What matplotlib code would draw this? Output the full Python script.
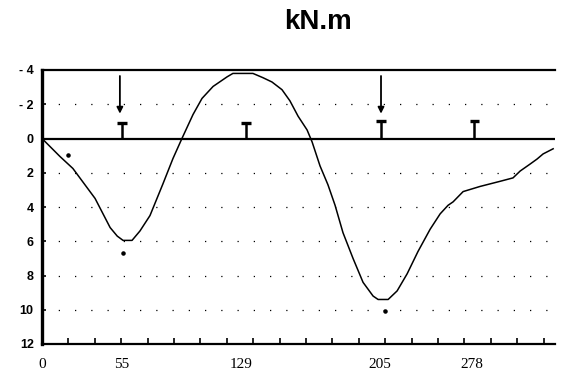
import matplotlib.pyplot as plt
from matplotlib.ticker import FixedLocator

# bending moment line, x in axis divisions, M in kN.m (positive drawn downward)
x_pts = [0.0, 0.68, 1.17, 2.01, 2.58, 2.85, 3.07, 3.41, 3.71, 4.09, 4.58, 4.96, 5.30,
         5.72, 6.06, 6.48, 7.01, 7.23, 7.99, 8.37, 8.71, 9.09, 9.39, 9.70, 10.04,
         10.23, 10.53, 10.83, 11.10, 11.40, 11.78, 12.16, 12.54, 12.73, 13.11,
         13.45, 13.83, 14.24, 14.70, 15.08, 15.38, 15.57, 15.95, 16.59, 17.35,
         17.84, 18.11, 18.48, 18.75, 18.98, 19.36]
m_pts = [0.0, 1.05, 1.75, 3.5, 5.2, 5.7, 5.95, 5.95, 5.4, 4.5, 2.65, 1.17, 0.0,
         -1.4, -2.34, -3.04, -3.6, -3.8, -3.8, -3.55, -3.3, -2.85, -2.2, -1.3, -0.5,
         0.2, 1.6, 2.7, 3.9, 5.5, 7.0, 8.4, 9.2, 9.4, 9.4,
         8.9, 7.9, 6.6, 5.3, 4.4, 3.9, 3.7, 3.1, 2.8, 2.5,
         2.3, 1.9, 1.5, 1.2, 0.9, 0.6]

meas_x = [0.98, 3.07, 13.0]
meas_m = [0.95, 6.7, 10.1]

support_x = [3.03, 7.72, 12.84, 16.38]
support_h = [-0.9, -0.9, -1.0, -1.0]
load_x = [2.95, 12.84]

xtick_pos = [0, 3.03, 7.54, 12.8, 16.29]
xtick_labels = ['0', '55', '129', '205', '278']
ytick_vals = [-4, -2, 0, 2, 4, 6, 8, 10, 12]
ytick_labels = ['- 4', '- 2', '0', '2', '4', '6', '8', '10', '12']
grid_vals = [-2, 2, 4, 6, 8, 10]

fig = plt.figure(figsize=(5.63, 3.79), dpi=100)
ax = fig.add_axes([42 / 563, 1 - 344 / 379, (555 - 42) / 563, (344 - 70) / 379])

for g in grid_vals:
    ax.axhline(g, color='k', lw=0.9, linestyle=(0, (1, 12)), zorder=1)
ax.axhline(0, color='k', lw=1.6, zorder=2)

ax.plot(x_pts, m_pts, color='k', lw=1.1, zorder=3)
ax.scatter(meas_x, meas_m, s=5, color='k', zorder=3)

# supports
ax.vlines(support_x, 0, support_h, color='k', lw=1.8, zorder=4)
ax.hlines(support_h, [s - 0.18 for s in support_x], [s + 0.18 for s in support_x],
          color='k', lw=2.4, zorder=4)

# point loads
for lx in load_x:
    ax.annotate('', xy=(lx, -1.45), xytext=(lx, -3.65),
                arrowprops=dict(arrowstyle='-|>', color='k', lw=1.3,
                                mutation_scale=9, shrinkA=0, shrinkB=0))

ax.set_xlim(0, 19.43)
ax.set_ylim(12, -4)

ax.set_yticks(ytick_vals)
ax.set_yticklabels(ytick_labels, fontfamily='Liberation Sans', fontweight='bold', fontsize=9)
ax.tick_params(axis='y', direction='in', length=3, width=1.2, pad=6)

ax.set_xticks(xtick_pos)
ax.set_xticklabels(xtick_labels, fontfamily='Liberation Serif', fontsize=11)
ax.xaxis.set_minor_locator(FixedLocator(range(0, 20)))
ax.tick_params(axis='x', which='major', length=0, pad=10)
ax.tick_params(axis='x', which='minor', direction='in', length=4, width=1.2)

ax.spines['right'].set_visible(False)
ax.spines['left'].set_linewidth(2.4)
ax.spines['bottom'].set_linewidth(1.6)
ax.spines['top'].set_linewidth(1.6)

fig.text(318 / 563, 1 - 22 / 379, 'kN.m', ha='center', va='center',
         fontfamily='Liberation Sans', fontweight='bold', fontsize=20)

fig.savefig('out.png', dpi=100)
